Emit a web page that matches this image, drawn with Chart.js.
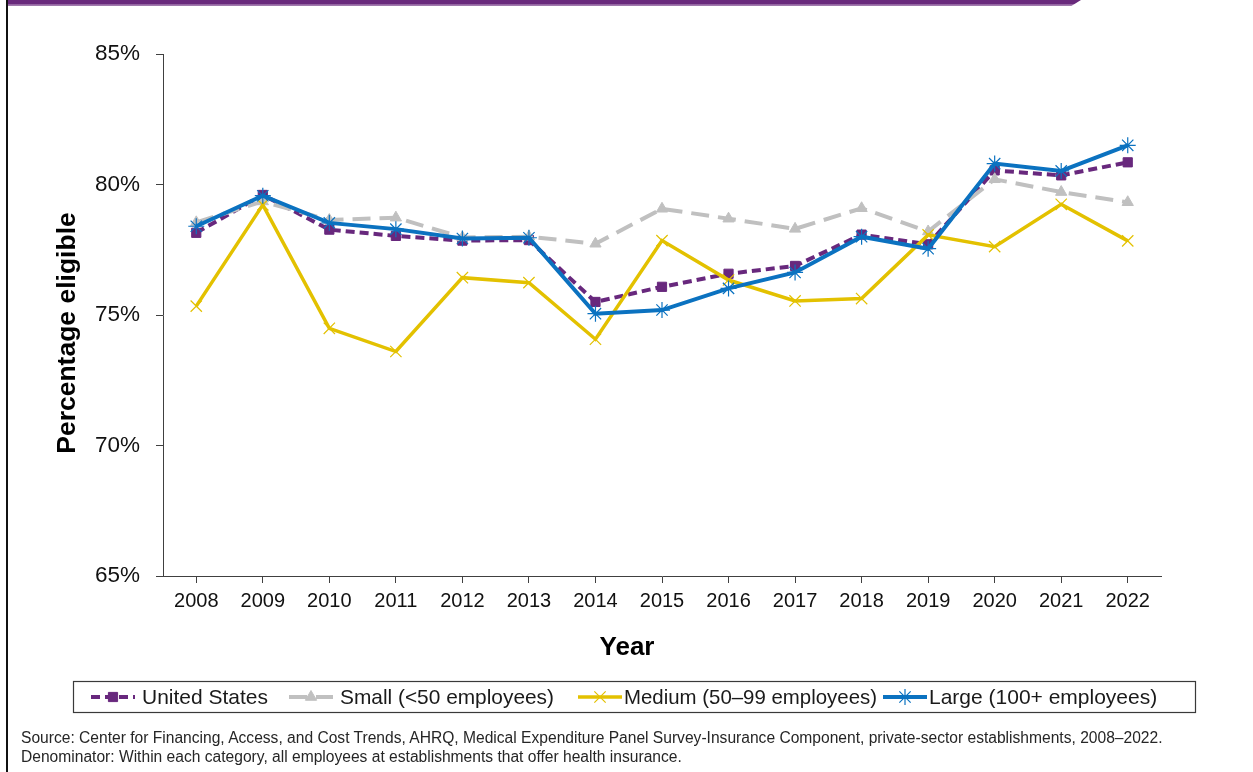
<!DOCTYPE html>
<html>
<head>
<meta charset="utf-8">
<script src="https://cdn.jsdelivr.net/npm/chart.js@4/dist/chart.umd.min.js"></script>
<style>
  html, body { margin: 0; padding: 0; background: #fff; }
  #wrap { position: relative; width: 1253px; height: 772px; overflow: hidden; background: #fff; }
  #topbar { position: absolute; left: 8px; top: 0; width: 1073px; height: 6px;
            background: linear-gradient(#692a7c 0, #692a7c 4px, #8d5a9c 4px, #a683b1 6px);
            clip-path: polygon(0 0, 100% 0, 99.1% 100%, 0 100%); }
  #leftrule { position: absolute; left: 6px; top: 0; width: 2px; height: 772px; background: #111; }
  #chart { position: absolute; left: 0; top: 0; }
  #source { position: absolute; left: 21px; top: 728px; font: 15.6px "Liberation Sans", Arial, sans-serif;
            color: #262626; line-height: 19px; white-space: nowrap; }
</style>
</head>
<body>
<div id="wrap">
  <canvas id="chart" width="1253" height="772"></canvas>
  <div id="topbar"></div>
  <div id="leftrule"></div>
  <div id="source">
    <div>Source: Center for Financing, Access, and Cost Trends, AHRQ, Medical Expenditure Panel Survey-Insurance Component, private-sector establishments, 2008–2022.</div>
    <div>Denominator: Within each category, all employees at establishments that offer health insurance.</div>
  </div>
</div>
<script>
// Survey years on the horizontal axis
const years = ['2008','2009','2010','2011','2012','2013','2014','2015','2016','2017','2018','2019','2020','2021','2022'];

// Percentage of employees eligible for health insurance, by firm size
const unitedStates = [78.15, 79.60, 78.27, 78.03, 77.85, 77.87, 75.50, 76.08, 76.58, 76.88, 78.08, 77.71, 80.54, 80.35, 80.85];
const smallFirms   = [78.55, 79.35, 78.64, 78.73, 77.97, 78.00, 77.73, 79.07, 78.69, 78.30, 79.09, 78.20, 80.20, 79.71, 79.32];
const mediumFirms  = [75.34, 79.22, 74.49, 73.60, 76.43, 76.24, 74.07, 77.85, 76.34, 75.54, 75.63, 78.07, 77.62, 79.24, 77.84];
const largeFirms   = [78.40, 79.57, 78.53, 78.29, 77.93, 77.96, 75.05, 75.19, 76.02, 76.63, 78.00, 77.54, 80.80, 80.52, 81.50];

// Series names shown in the legend
const seriesNames = ['United States', 'Small (<50 employees)', 'Medium (50\u201399 employees)', 'Large (100+ employees)'];

// Axis titles
const xTitle = 'Year';
const yTitle = 'Percentage eligible';

// Y-axis range and tick step (percent)
const yMin = 65, yMax = 85, yStep = 5;

const PURPLE = '#68287d';
const GRAY   = '#c0c0c0';
const GOLD   = '#e3c100';
const BLUE   = '#0b72c0';
const FONT   = '"Liberation Sans", Arial, sans-serif';

// Axis titles placed on the slide layout rather than centred on the plot area
const axisTitles = {
  id: 'axisTitles',
  afterDraw(chart) {
    const ctx = chart.ctx;
    ctx.save();
    ctx.fillStyle = '#000';
    ctx.textAlign = 'center';
    ctx.textBaseline = 'middle';
    ctx.font = 'bold 26px ' + FONT;
    ctx.fillText(xTitle, 627, 648);
    ctx.translate(68, 333);
    ctx.rotate(-Math.PI / 2);
    ctx.font = 'bold 26.5px ' + FONT;
    ctx.fillText(yTitle, 0, 0);
    ctx.restore();
  }
};

// Boxed legend under the plot; each entry shows the series line with its marker
const boxedLegend = {
  id: 'boxedLegend',
  afterDraw(chart) {
    const ctx = chart.ctx;
    const box = { x: 73.5, y: 681.5, w: 1122, h: 31 };
    ctx.save();
    ctx.strokeStyle = '#3a3a3a';
    ctx.lineWidth = 1.2;
    ctx.strokeRect(box.x, box.y, box.w, box.h);
    ctx.restore();
    const starts = [91, 289, 578, 883];
    const cy = box.y + box.h / 2;
    chart.data.datasets.forEach((ds, i) => {
      const x0 = starts[i], x1 = x0 + 44;
      ctx.save();
      ctx.strokeStyle = ds.borderColor;
      ctx.lineWidth = ds.borderWidth;
      ctx.setLineDash(ds.borderDash || []);
      ctx.beginPath();
      ctx.moveTo(x0, cy);
      ctx.lineTo(x1, cy);
      ctx.stroke();
      ctx.setLineDash([]);
      ctx.fillStyle = ds.pointBackgroundColor;
      ctx.strokeStyle = ds.pointBorderColor;
      ctx.lineWidth = ds.pointBorderWidth;
      Chart.helpers.drawPoint(ctx, {
        pointStyle: ds.pointStyle,
        radius: ds.pointRadius,
        borderWidth: ds.pointBorderWidth,
        rotation: 0
      }, (x0 + x1) / 2, cy);
      ctx.restore();
    });
    ctx.save();
    ctx.fillStyle = '#1a1a1a';
    ctx.font = '21px ' + FONT;
    ctx.textBaseline = 'middle';
    const textX = [142, 340, 624, 929];
    const textW = [126, 214, 253, 252];
    chart.data.datasets.forEach((ds, i) => {
      ctx.fillText(ds.label, textX[i], cy + 1, textW[i]);
    });
    ctx.restore();
  }
};

new Chart(document.getElementById('chart'), {
  type: 'line',
  data: {
    labels: years,
    datasets: [
      {
        label: seriesNames[0], data: unitedStates, order: 3,
        borderColor: PURPLE, borderWidth: 4, borderDash: [9, 5],
        pointStyle: 'rect', pointRadius: 6.5, pointBackgroundColor: PURPLE,
        pointBorderColor: PURPLE, pointBorderWidth: 1
      },
      {
        label: seriesNames[1], data: smallFirms, order: 2,
        borderColor: GRAY, borderWidth: 4, borderDash: [18, 9],
        pointStyle: 'triangle', pointRadius: 6.5, pointBackgroundColor: GRAY,
        pointBorderColor: GRAY, pointBorderWidth: 1
      },
      {
        label: seriesNames[2], data: mediumFirms, order: 1,
        borderColor: GOLD, borderWidth: 3.5,
        pointStyle: 'crossRot', pointRadius: 8, pointBackgroundColor: GOLD,
        pointBorderColor: GOLD, pointBorderWidth: 1.2
      },
      {
        label: seriesNames[3], data: largeFirms, order: 0,
        borderColor: BLUE, borderWidth: 4,
        pointStyle: 'star', pointRadius: 8, pointBackgroundColor: BLUE,
        pointBorderColor: BLUE, pointBorderWidth: 1.2
      }
    ]
  },
  options: {
    responsive: false,
    animation: false,
    devicePixelRatio: 1,
    layout: { padding: { left: 0, right: 92, top: 54, bottom: 96 } },
    elements: { line: { tension: 0, fill: false } },
    plugins: {
      legend: { display: false },
      tooltip: { enabled: false },
      title: { display: false }
    },
    scales: {
      x: {
        type: 'category',
        offset: true,
        grid: { display: true, drawOnChartArea: false, tickLength: 7, color: '#404040', offset: false },
        border: { display: true, color: '#404040', width: 1 },
        ticks: { color: '#111', font: { family: FONT, size: 20 }, padding: 6, maxRotation: 0, autoSkip: false },
        afterFit(scale) { scale.height = 100; }
      },
      y: {
        min: yMin, max: yMax,
        grid: { display: true, drawOnChartArea: false, tickLength: 7, color: '#404040' },
        border: { display: true, color: '#404040', width: 1 },
        ticks: { stepSize: yStep, color: '#111', font: { family: FONT, size: 22.5 }, padding: 16,
                 callback: v => v + '%' },
        afterFit(scale) { scale.width = 163; }
      }
    }
  },
  plugins: [boxedLegend, axisTitles]
});
</script>
</body>
</html>
